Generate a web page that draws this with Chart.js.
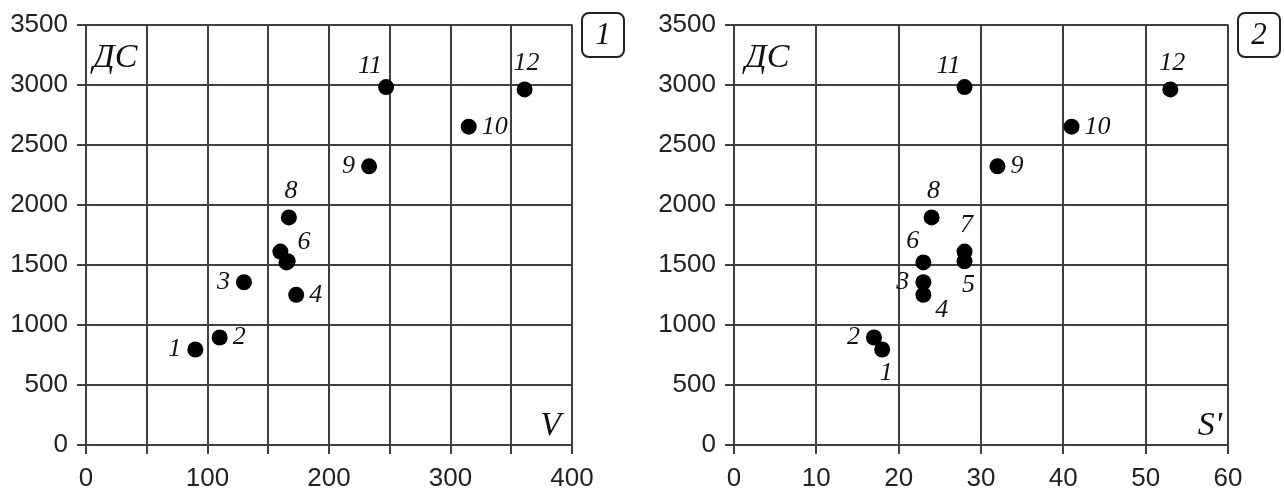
<!DOCTYPE html>
<html>
<head>
<meta charset="utf-8">
<script src="https://cdn.jsdelivr.net/npm/chart.js@4.4.1/dist/chart.umd.min.js"></script>
<style>
  html, body { margin: 0; padding: 0; background: #fff; }
  #wrap { position: relative; width: 1284px; height: 490px; overflow: hidden; }
  .panel { position: absolute; top: 0; width: 642px; height: 490px; }
</style>
</head>
<body>
<div id="wrap">
  <div class="panel" style="left:0"><canvas id="c1" width="642" height="490"></canvas></div>
  <div class="panel" style="left:642px"><canvas id="c2" width="642" height="490"></canvas></div>
</div>
<script>
// Twelve observations: ДС against V (panel 1) and against S' (panel 2)
const pointNames = ['1', '2', '3', '4', '5', '6', '7', '8', '9', '10', '11', '12'];
const dcValues   = [795, 895, 1355, 1250, 1530, 1520, 1610, 1895, 2320, 2650, 2980, 2960];
const vValues    = [90, 110, 130, 173, 166, 165, 160, 167, 233, 315, 247, 361];
const sValues    = [18, 17, 23, 23, 28, 23, 28, 24, 32, 41, 28, 53];

// Where each point number sits relative to its dot ('' = not labelled)
const vLabelSide = ['w', 'e', 'w', 'e', '', 'ne', '', 'n', 'w', 'e', 'nw', 'n'];
const sLabelSide = ['s', 'w', 'w', 'se', 's', 'nw', 'n', 'n', 'e', 'e', 'nw', 'n'];

const GRID = '#3d3d4b';
const INK = '#111';
const TICK_FONT = { family: '"Liberation Sans", Arial, sans-serif', size: 26 };
const SERIF = '"Liberation Serif", "DejaVu Serif", serif';

// label placement: [dx, dy, textAlign]
const SIDES = {
  w:  [-14, 0, 'right'],
  e:  [13, 0, 'left'],
  n:  [2, -26, 'center'],
  s:  [4, 24, 'center'],
  nw: [-4, -21, 'right'],
  ne: [11, -20, 'left'],
  se: [12, 15, 'left']
};

const annotate = {
  id: 'annotate',
  afterDatasetsDraw(chart, args, opts) {
    const ctx = chart.ctx;
    const area = chart.chartArea;
    const meta = chart.getDatasetMeta(0);
    ctx.save();
    // point numbers
    ctx.fillStyle = INK;
    ctx.font = 'italic 26px ' + SERIF;
    ctx.textBaseline = 'middle';
    meta.data.forEach((el, i) => {
      const side = opts.sides[i];
      if (!side) return;
      const [dx, dy, align] = SIDES[side];
      ctx.textAlign = align;
      ctx.fillText(pointNames[i], el.x + dx, el.y + dy);
    });
    // axis captions inside the plot
    ctx.font = 'italic 34px ' + SERIF;
    ctx.textBaseline = 'alphabetic';
    ctx.textAlign = 'left';
    ctx.fillText('ДС', area.left + opts.dcInset, area.top + 42);
    ctx.textAlign = 'right';
    ctx.fillText(opts.xName, area.right - opts.xInset, area.bottom - 10);
    // panel number in a rounded box
    const bx = area.right + 10, by = 13, bw = 42, bh = 44;
    ctx.lineWidth = 2;
    ctx.strokeStyle = '#222';
    ctx.beginPath();
    ctx.roundRect(bx, by, bw, bh, 7);
    ctx.stroke();
    ctx.font = 'italic 31px ' + SERIF;
    ctx.textAlign = 'center';
    ctx.textBaseline = 'middle';
    ctx.fillText(opts.panel, bx + bw / 2, by + bh / 2 + 1);
    ctx.restore();
  }
};

function makeChart(id, xValues, xMax, xStep, xLabelStep, yAxisWidth, rightPad, opts) {
  const points = xValues.map((x, i) => ({ x: x, y: dcValues[i] }));
  return new Chart(document.getElementById(id), {
    type: 'scatter',
    data: {
      datasets: [{
        data: points,
        backgroundColor: '#000',
        borderWidth: 0,
        pointRadius: 8,
        pointHoverRadius: 8
      }]
    },
    options: {
      responsive: false,
      animation: false,
      layout: { padding: { top: 22, right: rightPad, left: 0, bottom: 0 } },
      plugins: {
        legend: { display: false },
        tooltip: { enabled: false },
        annotate: opts
      },
      scales: {
        x: {
          type: 'linear',
          min: 0, max: xMax,
          afterFit(scale) { scale.height = 45; },
          ticks: {
            stepSize: xStep,
            autoSkip: false,
            maxRotation: 0,
            padding: 9,
            color: '#222',
            font: TICK_FONT,
            callback: v => (v % xLabelStep === 0 ? String(v) : '')
          },
          grid: { color: GRID, lineWidth: 2, tickLength: 9, tickColor: GRID },
          border: { color: GRID, width: 2 }
        },
        y: {
          min: 0, max: 3500,
          afterFit(scale) { scale.width = yAxisWidth; },
          ticks: {
            stepSize: 500,
            padding: 9,
            color: '#222',
            font: TICK_FONT,
            callback: v => String(v)
          },
          grid: { color: GRID, lineWidth: 2, tickLength: 9, tickColor: GRID },
          border: { color: GRID, width: 2 }
        }
      }
    },
    plugins: [annotate]
  });
}

makeChart('c1', vValues, 400, 50, 100, 86, 70,
  { sides: vLabelSide, xName: 'V', panel: '1', dcInset: 7, xInset: 11 });
makeChart('c2', sValues, 60, 10, 10, 92, 56,
  { sides: sLabelSide, xName: "S'", panel: '2', dcInset: 11, xInset: 6 });
</script>
</body>
</html>
